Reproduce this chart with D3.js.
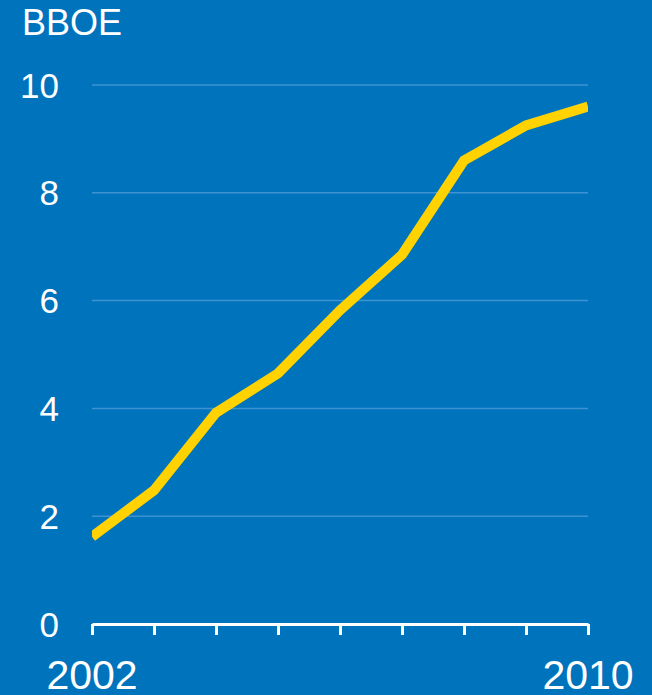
<!DOCTYPE html>
<html>
<head>
<meta charset="utf-8">
<script src="https://cdn.jsdelivr.net/npm/d3@7"></script>
<style>
  html, body { margin: 0; padding: 0; background: #0073bd; }
  svg { display: block; }
</style>
</head>
<body>
<div id="chart"></div>
<script>
// values (BBOE by year)
const years = [2002, 2003, 2004, 2005, 2006, 2007, 2008, 2009, 2010];
const values = [1.62, 2.48, 3.92, 4.65, 5.82, 6.85, 8.6, 9.25, 9.6];
const yTicks = [0, 2, 4, 6, 8, 10];
const xLabels = [2002, 2010];
const unitLabel = "BBOE";

const W = 652, H = 695;
const margin = {top: 85, right: 64, bottom: 71, left: 92};
const width = W - margin.left - margin.right,
      height = H - margin.top - margin.bottom;

const svg = d3.select("#chart")
  .append("svg")
    .attr("width", W)
    .attr("height", H);

svg.append("rect")
  .attr("width", W).attr("height", H)
  .attr("fill", "#0073bd");

const g = svg.append("g")
  .attr("transform", `translate(${margin.left},${margin.top})`);

const x = d3.scaleLinear()
  .domain([years[0], years[years.length - 1]])
  .range([0, width]);

const y = d3.scaleLinear()
  .domain([0, 10])
  .range([height, 0]);

// gridlines
g.selectAll(".grid")
  .data(yTicks.filter(d => d > 0))
  .join("line")
    .attr("x1", 0).attr("x2", width)
    .attr("y1", d => y(d)).attr("y2", d => y(d))
    .attr("stroke", "#3d93d2")
    .attr("stroke-width", 1.5);

// y labels
g.selectAll(".ylab")
  .data(yTicks)
  .join("text")
    .attr("x", -33)
    .attr("y", d => y(d))
    .attr("dy", "0.36em")
    .attr("text-anchor", "end")
    .attr("fill", "#fff")
    .style("font", "35px 'Liberation Sans', Arial, sans-serif")
    .text(d => d);

svg.append("text")
  .attr("x", 22)
  .attr("y", 35)
  .attr("fill", "#fff")
  .style("font", "36px 'Liberation Sans', Arial, sans-serif")
  .text(unitLabel);

// x axis: baseline with ticks at every year
const xAxis = g.append("g")
  .attr("transform", `translate(0,${height})`)
  .call(d3.axisBottom(x).tickValues(years).tickSize(11).tickSizeOuter(0).tickFormat(""));
xAxis.select(".domain").attr("stroke", "#fff").attr("stroke-width", 3);
xAxis.selectAll(".tick line").attr("stroke", "#fff").attr("stroke-width", 3);

g.selectAll(".xlab")
  .data(xLabels)
  .join("text")
    .attr("x", d => x(d))
    .attr("y", height + 65)
    .attr("text-anchor", "middle")
    .attr("fill", "#fff")
    .style("font", "41px 'Liberation Sans', Arial, sans-serif")
    .text(d => d);

// line
g.append("clipPath").attr("id", "clip")
  .append("rect").attr("x", 0).attr("y", -20).attr("width", width).attr("height", height + 40);

g.append("path")
  .datum(years.map((yr, i) => [yr, values[i]]))
  .attr("clip-path", "url(#clip)")
  .attr("fill", "none")
  .attr("stroke", "#ffd200")
  .attr("stroke-width", 10)
  .attr("stroke-linejoin", "miter")
  .attr("d", d3.line()
    .x(d => x(d[0]))
    .y(d => y(d[1])));
</script>
</body>
</html>
